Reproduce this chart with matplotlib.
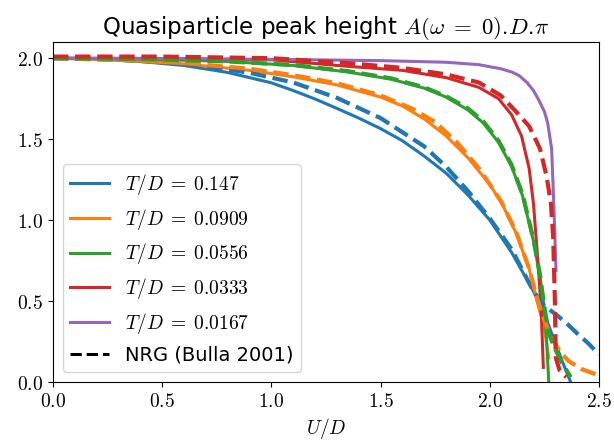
import matplotlib
matplotlib.use("Agg")
import matplotlib.pyplot as plt
from matplotlib.ticker import FuncFormatter

plt.rcParams["mathtext.fontset"] = "cm"
plt.rcParams["font.size"] = 14

temps = ["0.147", "0.0909", "0.0556", "0.0333", "0.0167"]
colors = ["tab:blue", "tab:orange", "tab:green", "tab:red", "tab:purple"]

# model curves (solid)
u_147 = [0, 0.2, 0.4, 0.6, 0.8, 1.0, 1.1, 1.2, 1.3, 1.4, 1.5, 1.6, 1.7, 1.8, 1.9, 2.0, 2.1, 2.2, 2.25, 2.3, 2.34, 2.37]
a_147 = [2.0, 1.995, 1.98, 1.955, 1.912, 1.848, 1.80, 1.748, 1.69, 1.63, 1.565, 1.49, 1.395, 1.29, 1.155, 1.0, 0.80, 0.56, 0.42, 0.24, 0.10, 0.0]

u_0909 = [0, 0.3, 0.6, 0.9, 1.1, 1.3, 1.5, 1.6, 1.7, 1.8, 1.9, 2.0, 2.06, 2.12, 2.18, 2.22, 2.25, 2.27]
a_0909 = [2.0, 1.99, 1.965, 1.925, 1.885, 1.835, 1.76, 1.705, 1.625, 1.52, 1.385, 1.22, 1.09, 0.92, 0.70, 0.48, 0.33, 0.15]

u_0556 = [0, 0.4, 0.8, 1.1, 1.35, 1.55, 1.7, 1.8, 1.9, 1.97, 2.04, 2.1, 2.15, 2.2, 2.23, 2.25, 2.26, 2.27]
a_0556 = [2.0, 1.995, 1.98, 1.955, 1.915, 1.87, 1.815, 1.76, 1.68, 1.60, 1.48, 1.33, 1.15, 0.87, 0.65, 0.45, 0.25, 0.0]

u_0333 = [0, 0.5, 1.0, 1.35, 1.6, 1.8, 1.95, 2.04, 2.1, 2.145, 2.18, 2.2, 2.22, 2.235, 2.245]
a_0333 = [2.0, 1.998, 1.99, 1.95, 1.925, 1.88, 1.82, 1.75, 1.65, 1.52, 1.32, 1.10, 0.75, 0.45, 0.09]

u_0167 = [0, 0.5, 1.0, 1.5, 1.8, 1.95, 2.05, 2.1, 2.134, 2.17, 2.2, 2.225, 2.25, 2.265, 2.283, 2.293, 2.303]
a_0167 = [2.0, 1.998, 1.993, 1.985, 1.975, 1.96, 1.935, 1.915, 1.893, 1.85, 1.80, 1.74, 1.67, 1.60, 1.44, 1.10, 0.69]

# NRG (Bulla 2001), dashed
nrg_u_147 = [0, 0.3, 0.5, 0.7, 0.9, 1.1, 1.3, 1.5, 1.7, 1.8, 1.9, 2.0, 2.1, 2.2, 2.25, 2.3, 2.35, 2.4, 2.45, 2.5]
nrg_a_147 = [2.0, 1.99, 1.975, 1.95, 1.91, 1.85, 1.755, 1.63, 1.455, 1.33, 1.18, 1.01, 0.82, 0.56, 0.47, 0.42, 0.365, 0.30, 0.24, 0.17]

nrg_u_0909 = [0, 0.3, 0.6, 0.9, 1.1, 1.3, 1.5, 1.65, 1.75, 1.85, 1.95, 2.05, 2.12, 2.18, 2.22, 2.25, 2.28, 2.32, 2.36, 2.42, 2.5]
nrg_a_0909 = [2.0, 1.99, 1.97, 1.935, 1.895, 1.845, 1.77, 1.685, 1.605, 1.48, 1.32, 1.12, 0.93, 0.70, 0.50, 0.38, 0.28, 0.19, 0.13, 0.08, 0.04]

nrg_u_0556 = [0, 0.4, 0.8, 1.1, 1.35, 1.55, 1.7, 1.8, 1.9, 1.97, 2.04, 2.1, 2.15, 2.2, 2.23, 2.25, 2.27, 2.3, 2.33, 2.37]
nrg_a_0556 = [2.0, 1.995, 1.98, 1.958, 1.92, 1.875, 1.82, 1.765, 1.69, 1.61, 1.49, 1.34, 1.16, 0.88, 0.66, 0.46, 0.30, 0.20, 0.12, 0.03]

nrg_u_0333 = [0, 0.5, 1.0, 1.35, 1.6, 1.8, 1.95, 2.05, 2.12, 2.18, 2.23, 2.26, 2.28, 2.29, 2.298, 2.302, 2.32, 2.35]
nrg_a_0333 = [2.01, 2.01, 2.0, 1.97, 1.94, 1.90, 1.85, 1.77, 1.67, 1.58, 1.44, 1.27, 1.10, 0.90, 0.50, 0.15, 0.07, 0.03]

model = [(u_147, a_147), (u_0909, a_0909), (u_0556, a_0556), (u_0333, a_0333), (u_0167, a_0167)]
nrg = [(nrg_u_147, nrg_a_147), (nrg_u_0909, nrg_a_0909), (nrg_u_0556, nrg_a_0556), (nrg_u_0333, nrg_a_0333)]

fig = plt.figure(figsize=(6.14, 4.47), dpi=100)
ax = fig.add_subplot(111)
fig.subplots_adjust(left=0.0863, right=0.9756, top=0.906, bottom=0.1454)

for (u, a), t, c in zip(model, temps, colors):
    ax.plot(u, a, color=c, lw=2.2, label=r"$T/D\;=\;%s$" % t)

for (u, a), c in zip(nrg, colors):
    ax.plot(u, a, color=c, lw=3, linestyle="--")

ax.plot([], [], color="black", lw=2.2, linestyle="--", label="NRG (Bulla 2001)")

ax.set_xlim(0, 2.5)
ax.set_ylim(0, 2.1)
ax.set_xticks([0, 0.5, 1.0, 1.5, 2.0, 2.5])
ax.set_yticks([0, 0.5, 1.0, 1.5, 2.0])
ax.xaxis.set_major_formatter(FuncFormatter(lambda v, p: "$%.1f$" % v))
ax.yaxis.set_major_formatter(FuncFormatter(lambda v, p: "$%.1f$" % v))
ax.set_xlabel(r"$U/D$")
ax.set_title(r"Quasiparticle peak height $A(\omega\;=\;0).\!D.\!\pi$", fontsize=16.5)
ax.legend(loc="lower left")

plt.savefig("out.png", dpi=100)
